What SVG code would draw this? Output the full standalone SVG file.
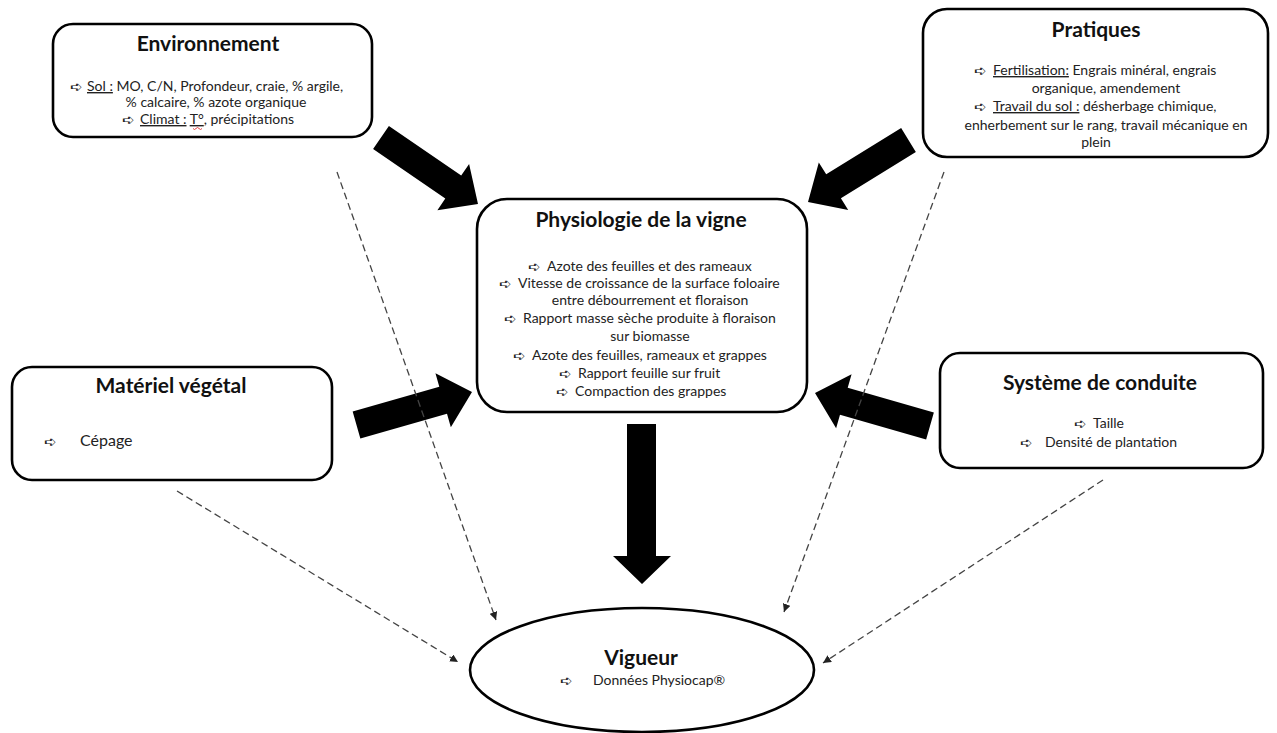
<svg xmlns="http://www.w3.org/2000/svg" width="1277" height="733" viewBox="0 0 1277 733">
<defs>
<style>
.box{fill:#fff;stroke:#000;stroke-width:2.6}
.t{font-family:Lato,"Liberation Sans",sans-serif;font-weight:bold;font-size:21px;fill:#111;text-anchor:middle}
.b{font-family:Lato,"Liberation Sans",sans-serif;font-size:14px;fill:#222}
.m{text-anchor:middle}
.bu{font-family:"DejaVu Sans",sans-serif;font-size:15px;fill:#222}
.u{text-decoration:underline}
.big{fill:#000;stroke:none}
.dash{fill:none;stroke:#444;stroke-width:1.3;stroke-dasharray:7 4;marker-end:url(#ah)}
</style>
<marker id="ah" viewBox="0 0 10 10" refX="10" refY="5" markerWidth="8" markerHeight="8" markerUnits="userSpaceOnUse" orient="auto">
<path d="M0,0 L10,5 L0,10 Z" fill="#222"/>
</marker>
</defs>
<rect width="1277" height="733" fill="#fff"/>

<g id="connectors">
<polygon class="big" points="373.1,149.05 445.3,198.6 437.4,210.2 478,204 469.1,163.95 461.2,175.5 388.9,125.95"/>
<polygon class="big" points="901.15,128.09 826.2,174.3 818.8,162.4 808,202 848.2,210.1 840.9,198.2 915.85,151.9"/>
<polygon class="big" points="360.35,438.46 447,413.7 450.84,427.17 472,392 435.46,373.31 439.3,386.78 352.65,411.54"/>
<polygon class="big" points="933.86,412.54 847.71,387.82 851.58,374.36 815,393 836.12,428.2 839.99,414.74 926.14,439.46"/>
<polygon class="big" points="627,424 656,424 656,556 671,556 642,584 613,556 627,556"/>
<line class="dash" x1="337" y1="172" x2="496" y2="620"/>
<line class="dash" x1="944" y1="172" x2="784" y2="612"/>
<line class="dash" x1="177" y1="491" x2="458" y2="662"/>
<line class="dash" x1="1103" y1="480" x2="823" y2="663"/>
</g>

<g id="environnement">
<rect class="box" x="53" y="24" width="319" height="113" rx="20"/>
<text class="t" x="208" y="51">Environnement</text>
<text class="bu" x="70" y="92">➪</text>
<text class="b" x="87" y="91"><tspan class="u">Sol :</tspan> MO, C/N, Profondeur, craie, % argile,</text>
<text class="b m" x="216" y="107">% calcaire, % azote organique</text>
<text class="bu" x="122" y="125">➪</text>
<text class="b" x="140" y="124"><tspan class="u">Climat :</tspan> <tspan class="u">T°</tspan>, précipitations</text>
<path d="M193,128.5 q1.5,2 3,0 t3,0 t3,0" fill="none" stroke="#e03030" stroke-width="0.9"/>
</g>

<g id="pratiques">
<rect class="box" x="923" y="9" width="345" height="148" rx="24"/>
<text class="t" x="1096" y="37">Pratiques</text>
<text class="bu" x="974" y="76">➪</text>
<text class="b" x="993" y="75"><tspan class="u">Fertilisation:</tspan> Engrais minéral, engrais</text>
<text class="b m" x="1106" y="93">organique, amendement</text>
<text class="bu" x="974" y="112">➪</text>
<text class="b" x="993" y="111"><tspan class="u">Travail du sol :</tspan> désherbage chimique,</text>
<text class="b m" x="1106" y="130">enherbement sur le rang, travail mécanique en</text>
<text class="b m" x="1096" y="147">plein</text>
</g>

<g id="physiologie">
<rect class="box" x="477" y="199" width="330" height="213" rx="30"/>
<text class="t" x="641" y="227">Physiologie de la vigne</text>
<text class="bu" x="528" y="272">➪</text>
<text class="b" x="547" y="271">Azote des feuilles et des rameaux</text>
<text class="bu" x="499" y="289">➪</text>
<text class="b" x="518" y="288">Vitesse de croissance de la surface foloaire</text>
<text class="b m" x="650" y="305">entre débourrement et floraison</text>
<text class="bu" x="504" y="324">➪</text>
<text class="b" x="523" y="323">Rapport masse sèche produite à floraison</text>
<text class="b m" x="650" y="341">sur biomasse</text>
<text class="bu" x="513" y="361">➪</text>
<text class="b" x="532" y="360">Azote des feuilles, rameaux et grappes</text>
<text class="bu" x="559" y="379">➪</text>
<text class="b" x="578" y="378">Rapport feuille sur fruit</text>
<text class="bu" x="556" y="397">➪</text>
<text class="b" x="575" y="396">Compaction des grappes</text>
</g>

<g id="materiel">
<rect class="box" x="12" y="367" width="320" height="113" rx="20"/>
<text class="t" x="171" y="393">Matériel végétal</text>
<text class="bu" x="44" y="447">➪</text>
<text class="b" x="80" y="446" style="font-size:16px">Cépage</text>
</g>

<g id="systeme">
<rect class="box" x="940" y="353" width="323" height="115" rx="20"/>
<text class="t" x="1100" y="390">Système de conduite</text>
<text class="bu" x="1074" y="429">➪</text>
<text class="b" x="1093" y="428">Taille</text>
<text class="bu" x="1020" y="448">➪</text>
<text class="b" x="1045" y="447">Densité de plantation</text>
</g>

<g id="vigueur">
<ellipse class="box" cx="642" cy="670" rx="172" ry="62"/>
<text class="t" x="641" y="665">Vigueur</text>
<text class="bu" x="560" y="686">➪</text>
<text class="b" x="593" y="685">Données Physiocap®</text>
</g>
</svg>
